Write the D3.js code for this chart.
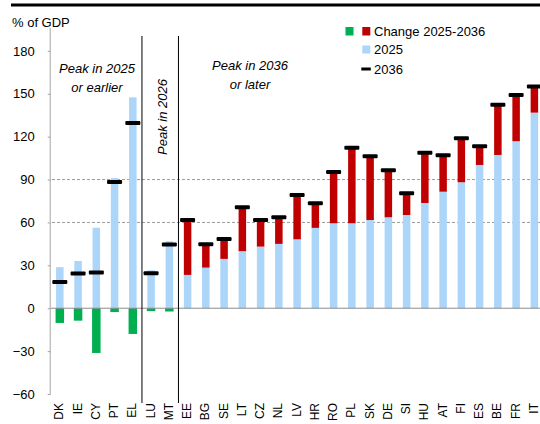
<!DOCTYPE html>
<html><head><meta charset="utf-8">
<script src="https://cdn.jsdelivr.net/npm/d3@7"></script>
<style>body{margin:0;background:#fff}svg{display:block;font-family:"Liberation Sans",Arial,sans-serif}</style>
</head><body>
<script>
const countries = ["DK","IE","CY","PT","EL","LU","MT","EE","BG","SE","LT","CZ","NL","LV","HR","RO","PL","SK","DE","SI","HU","AT","FI","ES","BE","FR","IT"];
const debt2025 = [28.7,33,56.3,91,147.5,26.5,46.8,23.3,28.4,34.5,39.9,43.1,45,48.2,56.2,59.4,59.4,61.7,63.6,65.2,73.6,81.5,88.1,100.2,107.2,116.8,136.8];
const debt2036 = [18.4,24.3,25,88.3,129.5,24.5,44.5,61.7,44.8,48.5,70.6,61.7,63.6,79.2,73.4,95.3,112.3,106.3,96.5,80.4,108.8,107,118.9,113.3,142.4,149.2,155];
const yTicks = [-60,-30,0,30,60,90,120,150,180];
const gridValues = [60,90];

const W=540,H=424;
const svg=d3.select("body").append("svg").attr("width",W).attr("height",H);
const x=d3.scaleBand().domain(countries).range([50.7,543.5]).padding(0);
const y=d3.scaleLinear().domain([-60,196]).range([394,28]);
const bw=7.5;

// top rule
svg.append("line").attr("x1",11).attr("x2",540).attr("y1",5).attr("y2",5).attr("stroke","#000").attr("stroke-width",3);

// grid
svg.selectAll(".grid").data(gridValues).join("line")
  .attr("x1",52).attr("x2",W).attr("y1",d=>y(d)).attr("y2",d=>y(d))
  .attr("stroke","#9a9a9a").attr("stroke-width",1).attr("stroke-dasharray","3,2");

const data=countries.map((c,i)=>({c,a:debt2025[i],b:debt2036[i],ch:debt2036[i]-debt2025[i]}));

// 2025 bars
svg.selectAll(".b25").data(data).join("rect")
  .attr("x",d=>x(d.c)+x.bandwidth()/2-bw/2).attr("width",bw)
  .attr("y",d=>y(d.a)).attr("height",d=>y(0)-y(d.a)).attr("fill","#abd5f9");
// positive change
svg.selectAll(".pos").data(data.filter(d=>d.ch>0)).join("rect")
  .attr("x",d=>x(d.c)+x.bandwidth()/2-bw/2).attr("width",bw)
  .attr("y",d=>y(d.b)).attr("height",d=>y(d.a)-y(d.b)).attr("fill","#c00000");
// negative change
svg.selectAll(".neg").data(data.filter(d=>d.ch<0)).join("rect")
  .attr("x",d=>x(d.c)+x.bandwidth()/2-bw/2-0.5).attr("width",bw+1)
  .attr("y",y(0)).attr("height",d=>y(d.ch)-y(0)).attr("fill","#00b050");

// zero line
svg.append("line").attr("x1",50.7).attr("x2",W).attr("y1",y(0)).attr("y2",y(0)).attr("stroke","#8c8c8c").attr("stroke-width",1);

// 2036 markers
svg.selectAll(".m").data(data).join("rect")
  .attr("x",d=>x(d.c)+x.bandwidth()/2-7.5).attr("width",15)
  .attr("y",d=>y(d.b)-2).attr("height",4).attr("rx",1).attr("fill","#000");

// y axis
const ya=svg.append("g").attr("transform","translate(50.7,0)")
  .call(d3.axisLeft(y).tickValues(yTicks).tickSize(3).tickPadding(13).tickFormat(d3.format("d")));
ya.select(".domain").attr("stroke","#a6a6a6").attr("d",`M-0.5,${y(-60)}V${y(196)}`);
ya.selectAll(".tick line").attr("stroke","#a6a6a6");
ya.selectAll("text").attr("font-size",13).attr("fill","#000").attr("font-family","Liberation Sans, Arial, sans-serif");

// x labels
svg.selectAll(".xl").data(countries).join("text")
  .attr("transform",d=>`translate(${x(d)+x.bandwidth()/2+3.5},403) rotate(-90)`)
  .attr("text-anchor","end").attr("font-size",12).text(d=>d);

// separators
[x("LU"),x("EE")].forEach(sx=>{
  svg.append("line").attr("x1",sx).attr("x2",sx).attr("y1",36).attr("y2",403).attr("stroke","#000").attr("stroke-width",1);
});

// title
svg.append("text").attr("x",12).attr("y",27).attr("font-size",13).text("% of GDP");

// annotations
const ann=svg.append("g").attr("font-size",13).attr("font-style","italic").attr("text-anchor","middle");
ann.append("text").attr("x",97).attr("y",73).text("Peak in 2025");
ann.append("text").attr("x",97).attr("y",92).text("or earlier");
ann.append("text").attr("transform","translate(167,117) rotate(-90)").text("Peak in 2026");
ann.append("text").attr("x",250).attr("y",70).text("Peak in 2036");
ann.append("text").attr("x",250).attr("y",89).text("or later");

// legend
const lg=svg.append("g").attr("font-size",13);
lg.append("rect").attr("x",345.5).attr("y",27).attr("width",8).attr("height",8.5).attr("fill","#00b050");
lg.append("rect").attr("x",362.3).attr("y",27).attr("width",8).attr("height",8.5).attr("fill","#c00000");
lg.append("text").attr("x",374).attr("y",35.5).text("Change 2025-2036");
lg.append("rect").attr("x",362.3).attr("y",45.5).attr("width",8).attr("height",8).attr("fill","#abd5f9");
lg.append("text").attr("x",374).attr("y",54).text("2025");
lg.append("rect").attr("x",361.3).attr("y",67.5).attr("width",9.5).attr("height",3).attr("fill","#000");
lg.append("text").attr("x",374).attr("y",73.5).text("2036");
</script>
</body></html>
